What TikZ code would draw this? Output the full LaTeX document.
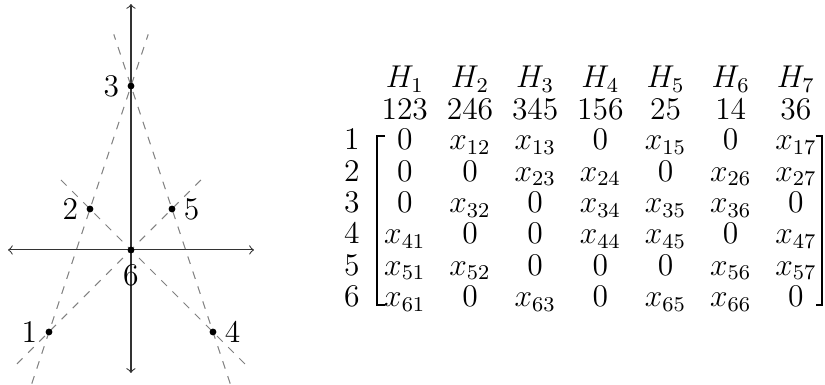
\documentclass[tikz,border=0pt]{standalone}
\usetikzlibrary{calc}

\begin{document}
\begin{tikzpicture}[x=15.6pt,y=15.6pt,
  every node/.style={font=\large},
  guide/.style={dashed,gray},
  entry/.style={anchor=base,inner sep=0pt}]
  \useasboundingbox (-3.195,-3.293) rectangle (16.93,6.098);
  % 坐标轴
  \coordinate (xl) at (-3,0);
  \coordinate (xr) at (3,0);
  \coordinate (yb) at (0,-3);
  \coordinate (yt) at (0,6);
  \draw[<->,black!80] (xl) -- (xr);
  \draw[<->,black!80] (yb) -- (yt);
  % 六个点
  \coordinate (p1) at (-2,-2);
  \coordinate (p2) at (-1,1);
  \coordinate (p3) at (0,4);
  \coordinate (p4) at (2,-2);
  \coordinate (p5) at (1,1);
  \coordinate (p6) at (0,0);
  % 四条虚线
  \draw[guide] ($(p1)!-0.21!(p3)$) -- ($(p1)!1.21!(p3)$);
  \draw[guide] ($(p4)!-0.21!(p3)$) -- ($(p4)!1.21!(p3)$);
  \draw[guide] ($(p1)!-0.26!(p5)$) -- ($(p1)!1.26!(p5)$);
  \draw[guide] ($(p4)!-0.26!(p2)$) -- ($(p4)!1.26!(p2)$);
  \fill (p1) circle (1.3pt) node[left=1pt] (l1) {1};
  \fill (p2) circle (1.3pt) node[left=1pt] (l2) {2};
  \fill (p3) circle (1.3pt) node[left=1pt] (l3) {3};
  \fill (p4) circle (1.3pt) node[right=1pt] (l4) {4};
  \fill (p5) circle (1.3pt) node[right=1pt] (l5) {5};
  \fill (p6) circle (1.3pt) node[below=2pt] (l6) {6};
  % 表头
  \foreach \h [count=\j] in {123,246,345,156,25,14,36} {
    \node[entry] (H\j) at ({6.68+1.59*(\j-1)},3.96) {$H_{\j}$};
    \node[entry] (n\j) at ({6.68+1.59*(\j-1)},3.18) {$\h$};
  }
  % 矩阵
  \foreach \row [count=\i] in {
      {0,x_{12},x_{13},0,x_{15},0,x_{17}},
      {0,0,x_{23},x_{24},0,x_{26},x_{27}},
      {0,x_{32},0,x_{34},x_{35},x_{36},0},
      {x_{41},0,0,x_{44},x_{45},0,x_{47}},
      {x_{51},x_{52},0,0,0,x_{56},x_{57}},
      {x_{61},0,x_{63},0,x_{65},x_{66},0}} {
    \node[entry] (r\i) at (5.39,{2.44-0.764*(\i-1)}) {$\i$};
    \foreach \e [count=\j] in \row
      \node[entry] (m\i\j) at ({6.68+1.59*(\j-1)},{2.44-0.764*(\i-1)}) {$\e$};
  }
  % 括号
  \coordinate (tl) at (6.0,2.79);
  \coordinate (bl) at (6.0,-1.34);
  \coordinate (tr) at (16.85,2.79);
  \coordinate (br) at (16.85,-1.34);
  \draw[line width=0.8pt] ($(tl)+(0.2,0)$) -- (tl) -- (bl) -- ($(bl)+(0.2,0)$);
  \draw[line width=0.8pt] ($(tr)+(-0.15,0)$) -- (tr) -- (br) -- ($(br)+(-0.15,0)$);
\end{tikzpicture}
\end{document}
